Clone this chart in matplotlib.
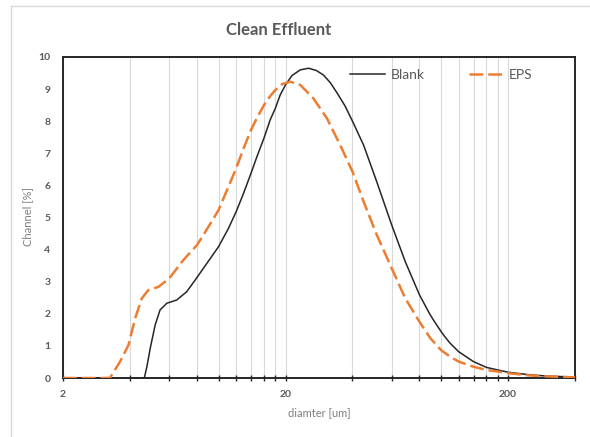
import matplotlib.pyplot as plt
from matplotlib.lines import Line2D
from matplotlib.ticker import FixedLocator, NullFormatter

# particle size distribution, diameter in um, channel in %
blank_diam = [2, 3, 4, 4.64, 4.78, 4.93, 5.19, 5.46, 5.86, 6.49, 7.2, 8, 8.86,
              10, 11.08, 12, 12.95, 14, 14.87, 16, 17.06, 18, 18.93, 20, 21.37,
              23.3, 25.4, 27.5, 29.6, 31.8, 34.1, 37, 40, 44.9, 51.5, 60, 69.1,
              80, 89.5, 95, 100, 105, 110, 120, 140, 160, 180, 200, 250, 300, 400]
blank_channel = [0, 0, 0, 0, 0.4, 0.92, 1.65, 2.12, 2.33, 2.43, 2.69, 3.13, 3.57,
                 4.09, 4.66, 5.18, 5.75, 6.38, 6.89, 7.47, 8.04, 8.4, 8.82, 9.13,
                 9.42, 9.6, 9.65, 9.58, 9.44, 9.2, 8.88, 8.48, 8.0, 7.25, 6.1,
                 4.77, 3.62, 2.59, 1.96, 1.68, 1.45, 1.25, 1.08, 0.82, 0.51, 0.33,
                 0.25, 0.18, 0.1, 0.06, 0.03]

eps_diam = [2, 3, 3.25, 3.61, 3.94, 4.22, 4.52, 4.84, 5.37, 6, 6.96, 8, 9.01, 10,
            11, 12, 12.95, 14, 14.87, 16, 17.06, 18, 19.27, 21, 23.3, 26.7, 30.7,
            35.2, 40, 44.9, 51.5, 60, 69.1, 80, 89.5, 100, 110, 120, 140, 160,
            180, 200, 250, 300, 400]
eps_channel = [0, 0, 0, 0.51, 1.03, 1.86, 2.48, 2.74, 2.84, 3.1, 3.68, 4.14,
               4.71, 5.23, 5.91, 6.53, 7.15, 7.73, 8.1, 8.5, 8.78, 8.97, 9.15,
               9.23, 9.13, 8.71, 8.09, 7.26, 6.43, 5.49, 4.45, 3.42, 2.48, 1.75,
               1.24, 0.87, 0.66, 0.51, 0.35, 0.25, 0.2, 0.15, 0.08, 0.05, 0.02]

major_ticks = [2, 20, 200]
minor_ticks = [4, 6, 8, 10, 12, 14, 16, 18, 40, 60, 80, 100, 120, 140, 160, 180, 400]

plt.rcParams['font.family'] = ['Lato', 'DejaVu Sans']

fig = plt.figure(figsize=(5.9, 4.37), dpi=100)
ax = fig.add_axes([63 / 590, 1 - 378 / 437, 512 / 590, 321 / 437])

ax.plot(blank_diam, blank_channel, color='#262626', lw=1.1, label='Blank', zorder=3)
ax.plot(eps_diam, eps_channel, color='#ED7D31', lw=1.8, dashes=(5.5, 2),
        label='EPS', zorder=4)

ax.set_xscale('log')
ax.set_xlim(2, 400)
ax.set_ylim(0, 10)
ax.xaxis.set_major_locator(FixedLocator(major_ticks))
ax.xaxis.set_minor_locator(FixedLocator(minor_ticks))
ax.xaxis.set_minor_formatter(NullFormatter())
ax.set_xticklabels([str(t) for t in major_ticks])
ax.set_yticks(range(11))

ax.grid(True, which='both', axis='x', color='#D9D9D9', lw=0.8, zorder=0)
ax.tick_params(axis='x', which='both', direction='inout', length=5, width=1,
               color='#262626', pad=6)
ax.tick_params(axis='y', length=0, pad=9)
for lab in ax.get_xticklabels() + ax.get_yticklabels():
    lab.set_color('#595959')
    lab.set_fontweight('bold')
    lab.set_fontsize(7.5)

for sp in ax.spines.values():
    sp.set_color('#262626')
    sp.set_linewidth(1.4)

ax.legend(loc='upper left', bbox_to_anchor=((350 - 63) / 512, 1 - 12 / 321),
          ncol=2, frameon=False, fontsize=10, handlelength=2.5,
          handletextpad=0.4, columnspacing=3.2, borderpad=0, borderaxespad=0,
          labelcolor='#595959')

fig.text(0.472, 1 - 35 / 437, 'Clean Effluent', ha='center', va='baseline',
         fontsize=12, fontweight='bold', color='#595959')
fig.text(28 / 590, 1 - 217 / 437, 'Channel [%]', rotation=90, ha='center',
         va='center', fontsize=8, color='#7F7F7F')
fig.text(319 / 590, 1 - 413 / 437, 'diamter [um]', ha='center', va='center',
         fontsize=8, color='#7F7F7F')

# chart area border
fig.add_artist(Line2D([11 / 590, 11 / 590], [0, 1 - 6 / 437], color='#D9D9D9', lw=1))
fig.add_artist(Line2D([11 / 590, 1], [1 - 6 / 437, 1 - 6 / 437], color='#D9D9D9', lw=1))

fig.savefig('out.png', dpi=100)
